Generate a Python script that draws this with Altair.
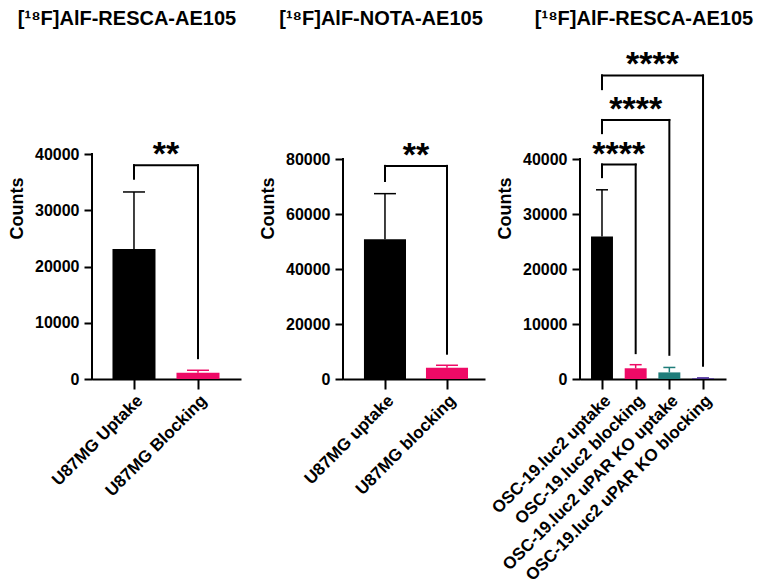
import json
import altair as alt
import pandas as pd

FONT = "Liberation Sans"

# ---- data ----
titles = ["[¹⁸F]AlF-RESCA-AE105", "[¹⁸F]AlF-NOTA-AE105", "[¹⁸F]AlF-RESCA-AE105"]

p1_groups = ["U87MG Uptake", "U87MG Blocking"]
p1_mean = [23100, 1100]
p1_upper = [33250, 1550]
p1_colors = ["#000000", "#EE0A66"]
p1_yticks = [0, 10000, 20000, 30000, 40000]
p1_br_a = [0]
p1_br_b = [1]
p1_br_top = [38000]
p1_br_left = [35600]
p1_br_right = [3700]
p1_br_label = ["**"]

p2_groups = ["U87MG uptake", "U87MG blocking"]
p2_mean = [50800, 4100]
p2_upper = [67400, 5000]
p2_colors = ["#000000", "#EE0A66"]
p2_yticks = [0, 20000, 40000, 60000, 80000]
p2_br_a = [0]
p2_br_b = [1]
p2_br_top = [77500]
p2_br_left = [72000]
p2_br_right = [9200]
p2_br_label = ["**"]

p3_groups = ["OSC-19.luc2 uptake", "OSC-19.luc2 blocking",
             "OSC-19.luc2 uPAR KO uptake", "OSC-19.luc2 uPAR KO blocking"]
p3_mean = [25900, 1950, 1200, 120]
p3_upper = [34400, 2600, 2100, 200]
p3_colors = ["#000000", "#EE0A66", "#1F7D7A", "#4B2E9B"]
p3_yticks = [0, 10000, 20000, 30000, 40000]
p3_br_a = [0, 0, 0]
p3_br_b = [1, 2, 3]
p3_br_top = [39000, 47100, 55200]
p3_br_left = [36700, 44700, 52700]
p3_br_right = [4700, 4400, 2400]
p3_br_label = ["****", "****", "****"]

H = 342


def panel(title, groups, mean, upper, colors, yticks, br_a, br_b, br_top,
          br_left, br_right, br_label, width, range_w, xdom, ymax, half,
          cap, title_dx):
    df = pd.DataFrame({"idx": list(range(len(groups))), "group": groups,
                       "mean": mean, "upper": upper})
    br = pd.DataFrame({"a": br_a, "b": br_b, "top": br_top, "lend": br_left,
                       "rend": br_right, "label": br_label})
    br["mid"] = (br["a"] + br["b"]) / 2

    xs = alt.Scale(domain=xdom, range=[0, range_w], nice=False, zero=False)
    ys = alt.Scale(domain=[0, ymax], nice=False, zero=True)
    cs = alt.Scale(domain=groups, range=colors)

    xaxis = alt.Axis(values=list(range(len(groups))),
                     labelExpr=json.dumps(groups) + "[datum.value]",
                     labelAngle=-45, tickSize=10, tickWidth=2, tickColor="black",
                     domainWidth=2, domainColor="black", labelFont=FONT,
                     labelFontSize=17, labelFontWeight="bold", labelColor="black",
                     labelPadding=3, labelOverlap=False, labelLimit=500,
                     labelFlush=False, title=None, grid=False)
    yaxis = alt.Axis(values=yticks, domain=False, tickSize=8, tickWidth=2,
                     tickColor="black", labelFont=FONT, labelFontSize=16,
                     labelFontWeight="bold", labelColor="black", labelPadding=5,
                     labelOverlap=False,
                     title="Counts", titleFont=FONT, titleFontSize=18,
                     titleFontWeight="bold", titleColor="black", titlePadding=8,
                     grid=False, format="d")

    def X(f):
        return alt.X(f, scale=xs, axis=xaxis)

    def Y(f):
        return alt.Y(f, scale=ys, axis=yaxis)

    col = alt.Color("group:N", scale=cs, legend=None)

    base = alt.Chart(df)
    bars = base.transform_calculate(
        x0=f"datum.idx - {half}", x1=f"datum.idx + {half}"
    ).mark_bar().encode(
        x=X("x0:Q"), x2="x1:Q", y=Y("mean:Q"), y2=alt.datum(0), color=col,
    )
    err = base.mark_rule(strokeWidth=1.5).encode(
        x=X("idx:Q"), y=Y("mean:Q"), y2="upper:Q", color=col,
    )
    caps = base.transform_calculate(
        c0=f"datum.idx - {cap}", c1=f"datum.idx + {cap}"
    ).mark_rule(strokeWidth=1.5).encode(
        x=X("c0:Q"), x2="c1:Q", y=Y("upper:Q"), color=col,
    )
    yline = alt.Chart(df).mark_rule(strokeWidth=2, color="black",
                                    strokeCap="square").encode(
        x=alt.datum(xdom[0]), y=alt.datum(0), y2=alt.datum(yticks[-1]),
    )
    bb = alt.Chart(br)
    rule = dict(strokeWidth=2, color="black", strokeCap="square")
    hline = bb.mark_rule(**rule).encode(x=X("a:Q"), x2="b:Q", y=Y("top:Q"))
    lleg = bb.mark_rule(**rule).encode(x=X("a:Q"), y=Y("lend:Q"), y2="top:Q")
    rleg = bb.mark_rule(**rule).encode(x=X("b:Q"), y=Y("rend:Q"), y2="top:Q")
    stars = bb.mark_text(font=FONT, fontSize=34, fontWeight="bold",
                         baseline="middle", dy=-10, color="black").encode(
        x=X("mid:Q"), y=Y("top:Q"), text="label:N")

    return alt.layer(bars, err, caps, yline, hline, lleg, rleg, stars).properties(
        width=width, height=H,
        title=alt.TitleParams(text=title, font=FONT, fontSize=20,
                              fontWeight="bold", color="black", anchor="middle",
                              dx=title_dx, offset=8),
    )


c1 = panel(titles[0], p1_groups, p1_mean, p1_upper, p1_colors, p1_yticks,
           p1_br_a, p1_br_b, p1_br_top, p1_br_left, p1_br_right, p1_br_label,
           width=164, range_w=149, xdom=[-0.656, 1.672],
           ymax=H * 40000 / 225, half=0.336, cap=0.172, title_dx=-47)
c2 = panel(titles[1], p2_groups, p2_mean, p2_upper, p2_colors, p2_yticks,
           p2_br_a, p2_br_b, p2_br_top, p2_br_left, p2_br_right, p2_br_label,
           width=142, range_w=142, xdom=[-0.677, 1.613],
           ymax=H * 80000 / 220, half=0.339, cap=0.177, title_dx=-33)
c3 = panel(titles[2], p3_groups, p3_mean, p3_upper, p3_colors, p3_yticks,
           p3_br_a, p3_br_b, p3_br_top, p3_br_left, p3_br_right, p3_br_label,
           width=146, range_w=146, xdom=[-0.653, 3.682],
           ymax=H * 40000 / 220, half=0.326, cap=0.178, title_dx=-9)

chart = alt.hconcat(c1, c2, c3, spacing=3).resolve_scale(
    color="independent"
).properties(
    padding={"left": 0, "top": 1, "right": 0, "bottom": 0},
    background="white",
).configure_view(stroke=None)

chart.save("out.html", embed_options={"renderer": "svg", "actions": False})
